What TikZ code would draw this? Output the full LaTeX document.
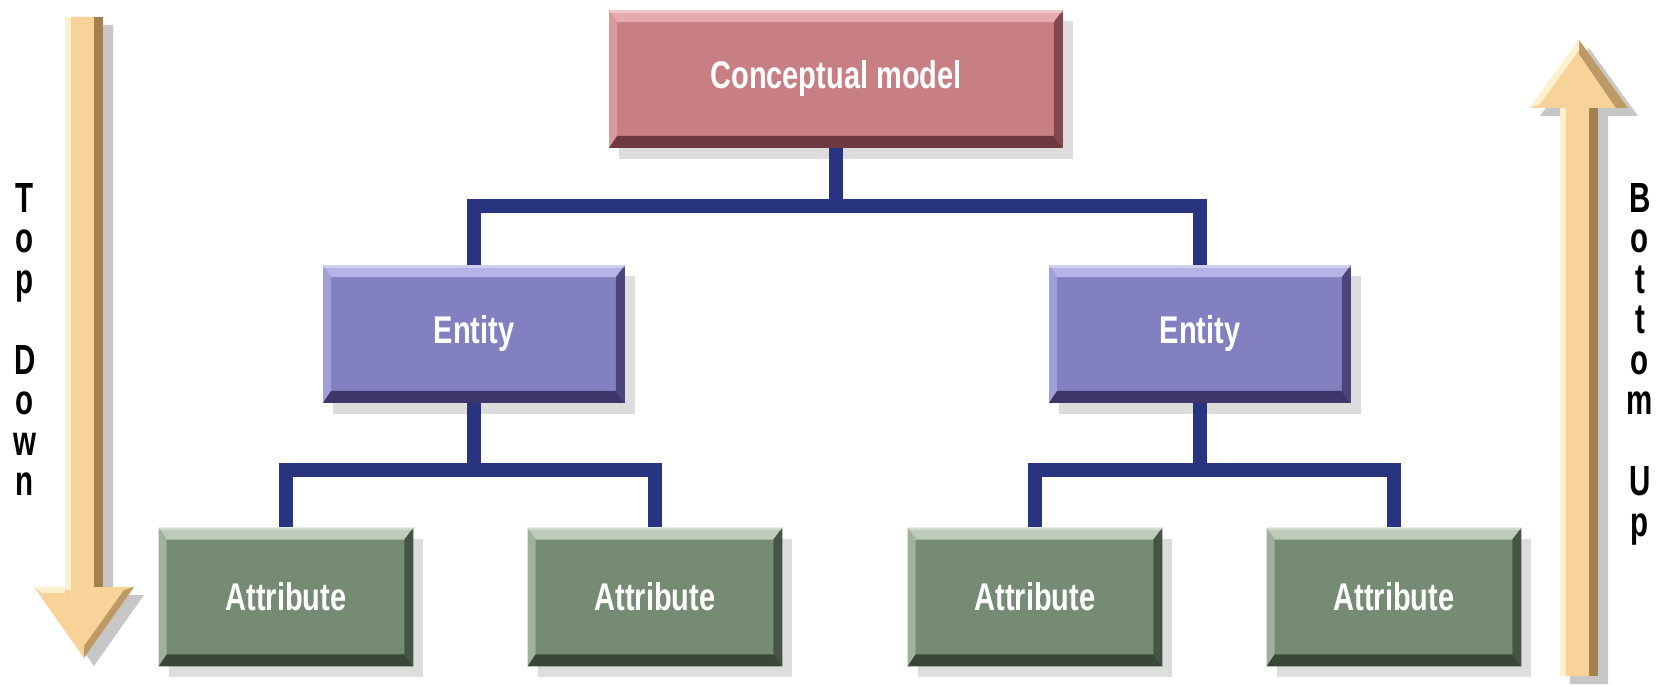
\documentclass[tikz,border=0pt]{standalone}
\usepackage{fontspec}
\usetikzlibrary{shadows}
\newfontfamily\boxfont{Liberation Sans}[FakeStretch=0.75]
\newfontfamily\sidefont{Liberation Sans}[FakeStretch=0.7]

\definecolor{modelfill}{HTML}{C77F84}
\definecolor{modellight}{HTML}{E6AAAE}
\definecolor{modeldark}{HTML}{6E3A42}
\definecolor{entityfill}{HTML}{8280C0}
\definecolor{entitylight}{HTML}{B6B4E6}
\definecolor{entitydark}{HTML}{3E3668}
\definecolor{attrfill}{HTML}{768B73}
\definecolor{attrlight}{HTML}{BECABA}
\definecolor{attrdark}{HTML}{394737}
\definecolor{treeblue}{HTML}{283480}
\definecolor{tanbody}{HTML}{F7D39A}
\definecolor{tanlight}{HTML}{FFF0CE}
\definecolor{tandark}{HTML}{A4804F}

\tikzset{
  bevelbox/.style n args={3}{fill=#1, text=white, inner sep=0pt,
    font=\boxfont\bfseries\fontsize{22}{26}\selectfont,
    minimum height=2.76cm,
    drop shadow={shadow xshift=0.2cm, shadow yshift=-0.22cm, fill=black!26},
    path picture={
      \coordinate (nw) at (path picture bounding box.north west);
      \coordinate (ne) at (path picture bounding box.north east);
      \coordinate (sw) at (path picture bounding box.south west);
      \coordinate (se) at (path picture bounding box.south east);
      \fill[#2] (nw) -- (ne) -- ([shift={(-0.18cm,-0.24cm)}]ne) -- ([shift={(0.16cm,-0.24cm)}]nw) -- cycle;
      \fill[#2!60!#1] (nw) -- ([shift={(0.16cm,-0.24cm)}]nw) -- ([shift={(0.16cm,0.24cm)}]sw) -- (sw) -- cycle;
      \fill[#3] (sw) -- (se) -- ([shift={(-0.18cm,0.24cm)}]se) -- ([shift={(0.16cm,0.24cm)}]sw) -- cycle;
      \fill[#3!80!#1] (ne) -- (se) -- ([shift={(-0.18cm,0.24cm)}]se) -- ([shift={(-0.18cm,-0.24cm)}]ne) -- cycle;
      \fill[white, opacity=0.35] (nw) rectangle ([yshift=-0.05cm]ne);
    }},
  modelbox/.style={bevelbox={modelfill}{modellight}{modeldark}, minimum width=9.08cm},
  entitybox/.style={bevelbox={entityfill}{entitylight}{entitydark}, minimum width=6.04cm},
  attrbox/.style={bevelbox={attrfill}{attrlight}{attrdark}, minimum width=5.1cm, minimum height=2.78cm},
  treelink/.style={draw=treeblue, line width=0.28cm, line join=miter},
  sidetext/.style={font=\sidefont\bfseries\fontsize{24}{23.05}\selectfont, align=center, inner sep=0pt, anchor=north}
}

\begin{document}
\begin{tikzpicture}[x=0.02cm, y=-0.02cm]
  \useasboundingbox (0,0) rectangle (1658,686);
  \fill[white] (0,0) rectangle (1658,686);

  \begin{scope}[shift={(10,8)}]
    \fill[black!22] (65,17) -- (103,17) -- (103,587) -- (134,587) -- (84,658) -- (34,587) -- (65,587) -- cycle;
    \fill[black!22] (1560,676) -- (1560,108) -- (1530,108) -- (1579,40) -- (1628,108) -- (1598,108) -- (1598,676) -- cycle;
  \end{scope}
  \fill[tanbody] (65,17) -- (103,17) -- (103,587) -- (134,587) -- (84,658) -- (34,587) -- (65,587) -- cycle;
  \fill[tanlight] (65,17) rectangle (71,590);
  \fill[tandark] (94,17) rectangle (103,587);
  \fill[tandark!70!tanbody] (134,587) -- (84,658) -- (84,646) -- (124,590) -- cycle;
  \fill[tanlight] (34,587) -- (65,587) -- (65,593) -- (42,593) -- cycle;
  \fill[tanbody] (1560,676) -- (1560,108) -- (1530,108) -- (1579,40) -- (1628,108) -- (1598,108) -- (1598,676) -- cycle;
  \fill[tanlight] (1560,108) rectangle (1566,676);
  \fill[tandark] (1589,108) rectangle (1598,676);
  \fill[tandark!70!tanbody] (1579,40) -- (1628,108) -- (1616,108) -- (1579,54) -- cycle;
  \fill[tanlight] (1530,108) -- (1579,40) -- (1579,50) -- (1540,104) -- cycle;

  \node[sidetext] (topdown) at (25,183) {T\\o\\p\\[23.05pt]D\\o\\w\\n};
  \node[sidetext] (bottomup) at (1640,183) {B\\o\\t\\t\\o\\m\\[23.05pt]U\\p};

  \coordinate (levelA) at (0,206);
  \coordinate (levelB) at (0,470);

  \node[modelbox] (model) at (836,79) {Conceptual model};
  \node[entitybox] (ent1) at (474,334) {Entity};
  \node[entitybox] (ent2) at (1200,334) {Entity};
  \node[attrbox] (attr1) at (286,597) {Attribute};
  \node[attrbox] (attr2) at (655,597) {Attribute};
  \node[attrbox] (attr3) at (1035,597) {Attribute};
  \node[attrbox] (attr4) at (1394,597) {Attribute};

  \draw[treelink] (model.south) -- (model.south |- levelA);
  \draw[treelink] (ent1.north) |- (model.south |- levelA) -| (ent2.north);
  \draw[treelink] (ent1.south) -- (ent1.south |- levelB);
  \draw[treelink] (attr1.north) |- (ent1.south |- levelB) -| (attr2.north);
  \draw[treelink] (ent2.south) -- (ent2.south |- levelB);
  \draw[treelink] (attr3.north) |- (ent2.south |- levelB) -| (attr4.north);
\end{tikzpicture}
\end{document}
